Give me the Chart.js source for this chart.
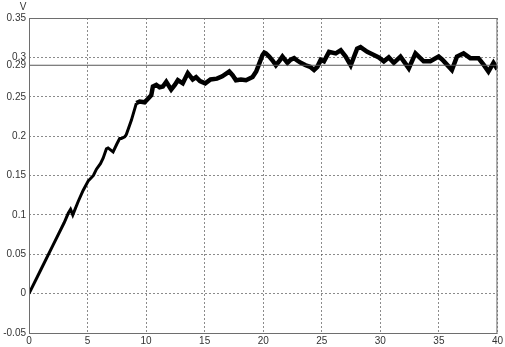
<!DOCTYPE html>
<html lang="en">
<head>
    <meta charset="UTF-8">
    <title>V</title>
    <script src="https://cdn.jsdelivr.net/npm/chart.js@4/dist/chart.umd.min.js"></script>
    <style>
        body {
            margin: 0;
            padding: 0;
            background: #ffffff;
            overflow: hidden;
        }
        #plot {
            display: block;
        }
    </style>
</head>
<body>
    <canvas id="plot" width="505" height="347"></canvas>

    <script>
        // time (s) and measured voltage (V)
        const timeValues = [
            0, 1.0, 2.0, 3.0, 3.35, 3.55, 3.74, 4.2, 4.62, 5.05,
            5.5, 5.76, 6.1, 6.33, 6.61, 6.75, 7.18, 7.5, 7.74, 7.89,
            8.17, 8.31, 8.74, 9.17, 9.45, 9.87, 10.2, 10.44, 10.58, 10.87,
            11.15, 11.43, 11.72, 12.14, 12.45, 12.71, 13.13, 13.56, 13.98, 14.27,
            14.6, 15.05, 15.5, 16.05, 16.5, 17.1, 17.4, 17.67, 18.1, 18.53,
            19.09, 19.4, 19.66, 19.94, 20.09, 20.23, 20.51, 20.8, 21.08, 21.4,
            21.64, 22.07, 22.35, 22.64, 22.9, 23.21, 23.63, 24.0, 24.34, 24.62,
            24.91, 25.19, 25.62, 26.19, 26.62, 27.04, 27.47, 28.02, 28.31, 28.88,
            29.45, 29.87, 30.3, 30.72, 31.15, 31.72, 32.1, 32.43, 33.0, 33.35,
            33.7, 34.27, 34.98, 35.3, 35.55, 36.11, 36.54, 37.11, 37.68, 38.38,
            38.8, 39.23, 39.66, 40
        ];
        const voltageValues = [
            0, 0.030, 0.060, 0.090, 0.102, 0.107, 0.100, 0.117, 0.131, 0.143,
            0.150, 0.158, 0.165, 0.172, 0.184, 0.185, 0.180, 0.190, 0.197, 0.197,
            0.199, 0.202, 0.220, 0.242, 0.244, 0.243, 0.248, 0.252, 0.263, 0.265,
            0.262, 0.263, 0.269, 0.259, 0.265, 0.271, 0.267, 0.280, 0.272, 0.275,
            0.270, 0.267, 0.272, 0.273, 0.276, 0.282, 0.277, 0.271, 0.272, 0.271,
            0.275, 0.282, 0.292, 0.303, 0.306, 0.305, 0.301, 0.296, 0.290, 0.296,
            0.301, 0.293, 0.297, 0.299, 0.296, 0.293, 0.290, 0.288, 0.284, 0.288,
            0.297, 0.295, 0.307, 0.305, 0.309, 0.301, 0.290, 0.311, 0.313, 0.307,
            0.303, 0.300, 0.295, 0.300, 0.293, 0.301, 0.293, 0.286, 0.305, 0.300,
            0.295, 0.295, 0.301, 0.297, 0.293, 0.284, 0.301, 0.305, 0.299, 0.299,
            0.291, 0.282, 0.293, 0.285
        ];

        // reference level and axis ticks
        const referenceLevel = 0.29;
        const xTicks = [0, 5, 10, 15, 20, 25, 30, 35, 40];
        const yTicks = [-0.05, 0, 0.05, 0.1, 0.15, 0.2, 0.25, 0.3, 0.35];

        const lineColor = '#000000';
        const gridColor = 'rgba(90, 90, 90, 0.7)';
        const labelFont = { family: 'Liberation Sans, Arial, sans-serif', size: 10 };

        const seriesPoints = timeValues.map((t, i) => ({ x: t, y: voltageValues[i] }));
        const referencePoints = [
            { x: xTicks[0], y: referenceLevel },
            { x: xTicks[xTicks.length - 1], y: referenceLevel }
        ];

        function formatTick(v) {
            return parseFloat(v.toFixed(2)).toString();
        }

        // box round the plotting area plus the unit label
        const framePlugin = {
            id: 'frame',
            afterDraw(chart) {
                const { ctx, chartArea } = chart;
                ctx.save();
                ctx.strokeStyle = '#6e6e6e';
                ctx.lineWidth = 1;
                ctx.setLineDash([]);
                ctx.strokeRect(chartArea.left + 0.5, chartArea.top + 0.5,
                    chartArea.right - chartArea.left - 1, chartArea.bottom - chartArea.top);
                ctx.fillStyle = '#333333';
                ctx.font = '10px "Liberation Sans", Arial, sans-serif';
                ctx.textAlign = 'center';
                ctx.textBaseline = 'top';
                ctx.fillText('V', chartArea.left - 6, 2);
                ctx.restore();
            }
        };

        const ctx = document.getElementById('plot').getContext('2d');
        new Chart(ctx, {
            type: 'line',
            data: {
                datasets: [
                    {
                        label: 'level',
                        data: referencePoints,
                        borderColor: '#555555',
                        borderWidth: 1,
                        pointRadius: 0,
                        fill: false,
                        tension: 0
                    },
                    {
                        label: 'V',
                        data: seriesPoints,
                        borderColor: lineColor,
                        borderWidth: 3.5,
                        borderJoinStyle: 'miter',
                        pointRadius: 0,
                        fill: false,
                        tension: 0,
                        // the trace gets noisier once it settles
                        segment: {
                            borderWidth: s => s.p0.parsed.x < 9 ? 3 : 4.5
                        }
                    }
                ]
            },
            options: {
                responsive: false,
                animation: false,
                devicePixelRatio: 1,
                layout: {
                    padding: { top: 18, right: 6, left: 0, bottom: 0 }
                },
                plugins: {
                    legend: { display: false },
                    tooltip: { enabled: false }
                },
                scales: {
                    x: {
                        type: 'linear',
                        min: xTicks[0],
                        max: xTicks[xTicks.length - 1],
                        afterBuildTicks: function(scale) {
                            scale.ticks = xTicks.map(v => ({ value: v }));
                        },
                        afterFit: function(scale) {
                            scale.height = 14;
                        },
                        ticks: {
                            autoSkip: false,
                            maxRotation: 0,
                            padding: 2,
                            color: '#333333',
                            font: labelFont,
                            callback: v => formatTick(v)
                        },
                        grid: {
                            color: gridColor,
                            drawTicks: false
                        },
                        border: {
                            display: false,
                            dash: [2, 2]
                        }
                    },
                    y: {
                        type: 'linear',
                        min: yTicks[0],
                        max: yTicks[yTicks.length - 1],
                        afterBuildTicks: function(scale) {
                            const vals = yTicks.concat([referenceLevel]).sort((a, b) => a - b);
                            scale.ticks = vals.map(v => ({ value: v }));
                        },
                        afterFit: function(scale) {
                            scale.width = 29;
                        },
                        ticks: {
                            autoSkip: false,
                            padding: 3,
                            color: '#333333',
                            font: labelFont,
                            callback: v => formatTick(v)
                        },
                        grid: {
                            color: c => (c.tick && Math.abs(c.tick.value - referenceLevel) < 1e-6) ? 'rgba(0,0,0,0)' : gridColor,
                            drawTicks: false
                        },
                        border: {
                            display: false,
                            dash: [2, 2]
                        }
                    }
                }
            },
            plugins: [framePlugin]
        });
    </script>
</body>
</html>
